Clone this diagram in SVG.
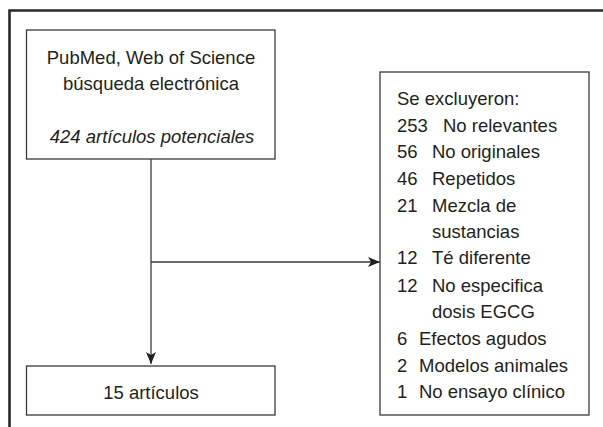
<svg xmlns="http://www.w3.org/2000/svg" width="603" height="427" viewBox="0 0 603 427">
<defs>
<style>
.t{font-family:"Liberation Sans",Arial,sans-serif;font-size:18.5px;fill:#231f20}
.c{text-anchor:middle}
.i{font-style:italic}
.box{fill:#fff;stroke:#3a3a3a;stroke-width:1.3}
.ln{fill:none;stroke:#3a3a3a;stroke-width:1.3}
</style>
<marker id="ah" viewBox="0 0 12 10" refX="12" refY="5" markerWidth="12" markerHeight="10" markerUnits="userSpaceOnUse" orient="auto">
<path d="M0,0 L12,5 L0,10 L3,5 Z" fill="#231f20"/>
</marker>
</defs>
<rect width="603" height="427" fill="#fff"/>
<path d="M9.5,427 V10.5 H603" fill="none" stroke="#2a2a2a" stroke-width="2.6"/>
<g id="connectors">
<path class="ln" d="M151,159 V364" marker-end="url(#ah)"/>
<path class="ln" d="M151,262 H380" marker-end="url(#ah)"/>
</g>
<g id="search">
<rect class="box" x="26.5" y="30" width="248.5" height="129"/>
<text class="t c" x="151" y="64">PubMed, Web of Science</text>
<text class="t c" x="151" y="90">búsqueda electrónica</text>
<text class="t c i" x="152" y="143">424 artículos potenciales</text>
</g>
<g id="result">
<rect class="box" x="26.5" y="366" width="248.5" height="49"/>
<text class="t c" x="151" y="399">15 artículos</text>
</g>
<g id="excluded">
<rect class="box" x="380" y="72" width="209" height="343"/>
<text class="t" x="397" y="105">Se excluyeron:</text>
<text class="t" x="397" y="132">253<tspan x="443">No relevantes</tspan></text>
<text class="t" x="397" y="158">56<tspan x="432">No originales</tspan></text>
<text class="t" x="397" y="185">46<tspan x="432">Repetidos</tspan></text>
<text class="t" x="397" y="212">21<tspan x="432">Mezcla de</tspan></text>
<text class="t" x="432" y="238">sustancias</text>
<text class="t" x="397" y="264">12<tspan x="432">Té diferente</tspan></text>
<text class="t" x="397" y="292">12<tspan x="432">No especifica</tspan></text>
<text class="t" x="432" y="318">dosis EGCG</text>
<text class="t" x="397" y="345">6<tspan x="419">Efectos agudos</tspan></text>
<text class="t" x="397" y="372">2<tspan x="419">Modelos animales</tspan></text>
<text class="t" x="397" y="398">1<tspan x="419">No ensayo clínico</tspan></text>
</g>
</svg>
